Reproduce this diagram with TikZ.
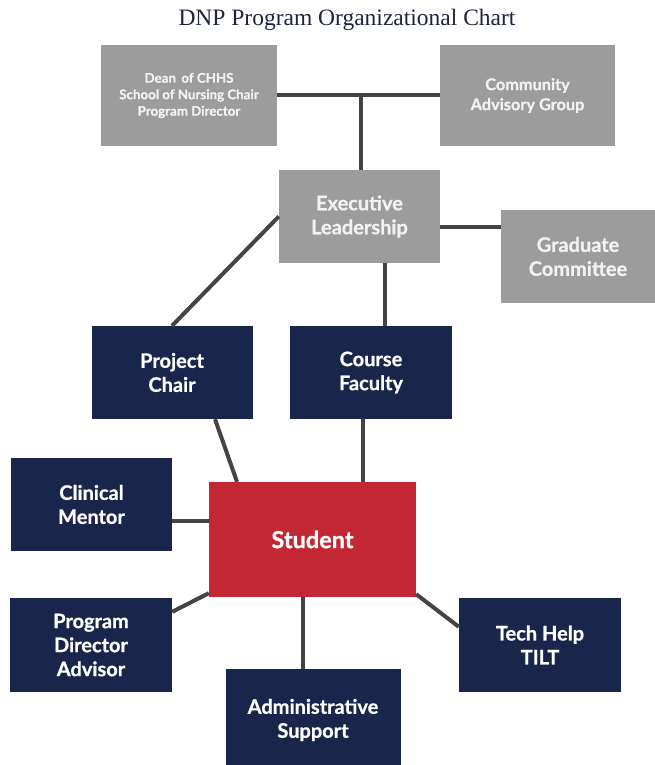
\documentclass[tikz,border=0pt]{standalone}
\usepackage{fontspec}
\setmainfont{Lato}[BoldFeatures={FakeBold=0.8}]
\newfontfamily\titlefont{Liberation Serif}
\definecolor{boxgray}{HTML}{9C9C9C}
\definecolor{navy}{HTML}{19254B}
\definecolor{stured}{HTML}{C22733}
\definecolor{linegray}{HTML}{444444}
\definecolor{titlecol}{HTML}{1E2340}
\tikzset{
  base/.style={rectangle, inner sep=0pt, align=center, text=white, font=\bfseries},
  graybox/.style={base, fill=boxgray, text=white!95!black},
  navybox/.style={base, fill=navy},
  redbox/.style={base, fill=stured},
  lbl/.style={font=\bfseries\fontsize{20}{24}\selectfont},
  conn/.style={draw=linegray, line width=4pt}
}
\begin{document}
\begin{tikzpicture}[x=1pt,y=-1pt]
\useasboundingbox (0,0) rectangle (655,765);
\node[font=\titlefont\fontsize{23.5}{27}\selectfont, text=titlecol] (title) at (347,20) {DNP Program Organizational Chart};
\node[graybox, minimum width=176pt, minimum height=101pt, font=\bfseries\fontsize{13.3}{16.5}\selectfont] (dean) at (189,95.5) {Dean \,of CHHS\\School of Nursing Chair\\Program Director};
\node[graybox, minimum width=175pt, minimum height=101pt, font=\bfseries\fontsize{16.3}{20}\selectfont] (comm) at (527.5,95.5) {Community\\Advisory Group};
\node[graybox, lbl, minimum width=161pt, minimum height=93pt] (exec) at (359.5,216.5) {Executive\\Leadership};
\node[graybox, lbl, minimum width=154pt, minimum height=93pt] (grad) at (578,256.5) {Graduate\\Committee};
\node[navybox, lbl, minimum width=161pt, minimum height=93pt] (proj) at (172,372.5) {Project\\Chair};
\node[navybox, lbl, minimum width=162pt, minimum height=93pt] (course) at (371,372.5) {Course\\Faculty};
\node[navybox, lbl, minimum width=161pt, minimum height=93pt] (clin) at (91.5,504.5) {Clinical\\Mentor};
\node[redbox, minimum width=207pt, minimum height=115pt, font=\bfseries\fontsize{23.5}{27}\selectfont] (stud) at (312.5,539.5) {Student};
\node[navybox, lbl, minimum width=162pt, minimum height=94pt] (pda) at (91,645) {Program\\Director\\Advisor};
\node[navybox, lbl, minimum width=162pt, minimum height=94pt] (tech) at (540,645) {Tech Help\\TILT};
\node[navybox, lbl, minimum width=175pt, minimum height=102pt] (admin) at (313,720) {Administrative\\Support};
% connectors
\coordinate (j) at (361,95.5);
\draw[conn] (dean.east) -- (comm.west);
\draw[conn] (j) -- (j |- exec.north);
\draw[conn] ([yshift=-10.5pt]exec.east) -- ([yshift=-10.5pt]exec.east -| grad.west);
\draw[conn] (exec.west) -- (proj.north);
\draw[conn] ([xshift=25.5pt]exec.south) -- ([xshift=25.5pt]exec.south |- course.north);
\draw[conn] ([xshift=43pt]proj.south) -- ([xshift=-75.5pt]stud.north);
\draw[conn] ([xshift=-8pt]course.south) -- ([xshift=-8pt]course.south |- stud.north);
\draw[conn] ([yshift=-16.5pt]clin.east) -- ([yshift=-16.5pt]clin.east -| stud.west);
\draw[conn] ([yshift=4pt]stud.south west) -- ([yshift=-14pt]pda.north east);
\draw[conn] ([yshift=3pt]stud.south east) -- ([yshift=-29pt]tech.north west);
\draw[conn] ([xshift=-9.5pt]stud.south) -- ([xshift=-9.5pt]stud.south |- admin.north);
\end{tikzpicture}
\end{document}
